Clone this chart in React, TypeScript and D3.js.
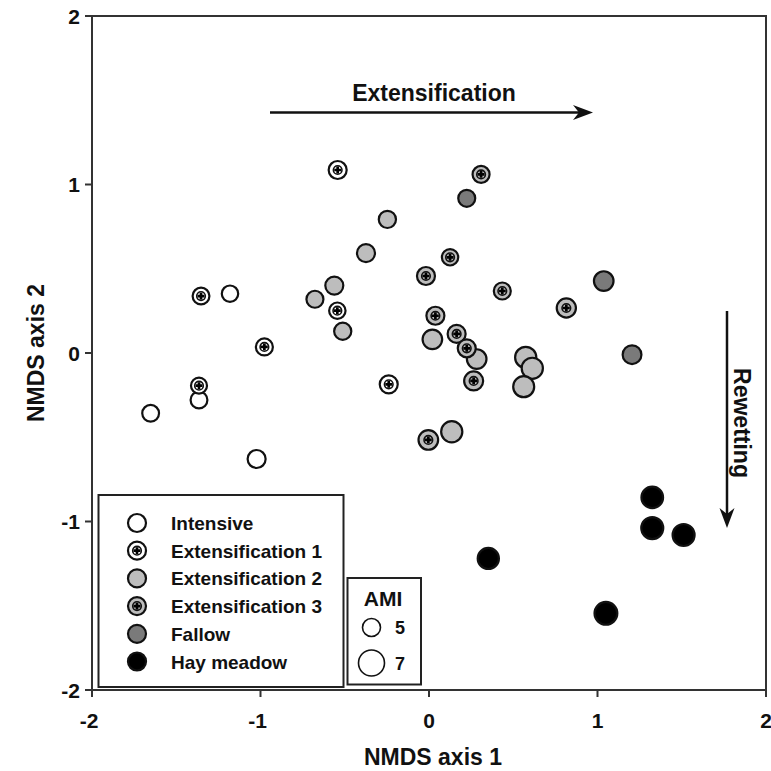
import React from "react";
import * as d3 from "d3";

// [NMDS1, NMDS2, AMI]
const intensive: [number, number, number][] = [
  [-1.181, 0.352, 4.6],
  [-1.365, -0.279, 4.7],
  [-1.652, -0.358, 4.7],
  [-1.023, -0.629, 5.0],
];
const extensification1: [number, number, number][] = [
  [-1.353, 0.338, 4.7],
  [-0.544, 0.251, 4.6],
  [-0.977, 0.036, 4.75],
  [-1.365, -0.194, 4.5],
  [-0.239, -0.186, 5.0],
  [-0.542, 1.086, 5.0],
];
const extensification2: [number, number, number][] = [
  [-0.677, 0.319, 4.75],
  [-0.562, 0.4, 5.0],
  [-0.512, 0.129, 4.8],
  [-0.374, 0.593, 5.0],
  [-0.247, 0.793, 4.8],
  [0.02, 0.081, 5.4],
  [0.135, -0.467, 5.8],
  [0.283, -0.036, 5.4],
  [0.574, -0.026, 5.8],
  [0.613, -0.091, 5.8],
  [0.562, -0.2, 5.75],
];
const extensification3: [number, number, number][] = [
  [-0.018, 0.457, 5.0],
  [0.125, 0.568, 4.6],
  [0.038, 0.221, 5.0],
  [0.164, 0.113, 5.0],
  [0.224, 0.028, 5.0],
  [-0.004, -0.516, 5.4],
  [0.435, 0.368, 4.75],
  [0.815, 0.267, 5.3],
  [0.265, -0.166, 5.25],
  [0.309, 1.06, 4.75],
];
const fallow: [number, number, number][] = [
  [0.224, 0.918, 4.75],
  [1.037, 0.427, 5.4],
  [1.205, -0.01, 5.2],
];
const hayMeadow: [number, number, number][] = [
  [1.325, -0.857, 5.9],
  [1.325, -1.039, 6.0],
  [1.511, -1.08, 6.0],
  [0.352, -1.219, 5.8],
  [1.05, -1.545, 6.2],
];

const groupNames = ["Intensive", "Extensification 1", "Extensification 2", "Extensification 3", "Fallow", "Hay meadow"];
const groupFills = ["#ffffff", "#ffffff", "#bdbdbd", "#bdbdbd", "#7a7a7a", "#000000"];
const groupPlus = [false, true, false, true, false, false];
const groupData = [intensive, extensification1, extensification2, extensification3, fallow, hayMeadow];

const tickValues = [-2, -1, 0, 1, 2];
const amiLegend = [5, 7];

const FONT = "'Liberation Sans', Arial, Helvetica, sans-serif";

function Marker({ cx, cy, r, fill, plus }: { cx: number; cy: number; r: number; fill: string; plus: boolean }) {
  return (
    <g transform={`translate(${cx},${cy})`}>
      <circle r={r} fill={fill} stroke="#111" strokeWidth={2.2} />
      {plus && (
        <>
          <circle r={4.3} fill={fill} stroke="#111" strokeWidth={1.6} />
          <path d="M-3.4,0H3.4M0,-3.4V3.4" stroke="#000" strokeWidth={2.7} />
        </>
      )}
    </g>
  );
}

export default function App() {
  const x = d3.scaleLinear().domain([-2, 2]).range([92, 766]);
  const y = d3.scaleLinear().domain([-2, 2]).range([690, 16]);
  const r = d3.scaleLinear().domain([5, 7]).range([9, 13]);

  const left = x(-2), right = x(2), top = y(2), bottom = y(-2);

  return (
    <svg width={771} height={771} style={{ position: "absolute", left: 0, top: 0, background: "#fff" }} fontFamily={FONT}>
      <rect x={0} y={0} width={771} height={771} fill="#fff" />
      {/* frame */}
      <rect x={left} y={top} width={right - left} height={bottom - top} fill="none" stroke="#333" strokeWidth={2} />
      {/* x ticks */}
      {tickValues.map((t) => (
        <g key={"x" + t}>
          <line x1={x(t)} x2={x(t)} y1={bottom} y2={bottom + 7} stroke="#333" strokeWidth={2} />
          <text x={x(t) - (t < 0 ? 3 : 0)} y={728} textAnchor="middle" fontSize={21} fontWeight="bold" fill="#111">
            {t}
          </text>
        </g>
      ))}
      {/* y ticks */}
      {tickValues.map((t) => (
        <g key={"y" + t}>
          <line x1={left - 7} x2={left} y1={y(t)} y2={y(t)} stroke="#333" strokeWidth={2} />
          <text x={80} y={y(t) + 7.5} textAnchor="end" fontSize={21} fontWeight="bold" fill="#111">
            {t}
          </text>
        </g>
      ))}
      <text x={433} y={765} textAnchor="middle" fontSize={23} fontWeight="bold" fill="#111">
        NMDS axis 1
      </text>
      <text transform={`translate(44,${y(0)}) rotate(-90)`} textAnchor="middle" fontSize={23} fontWeight="bold" fill="#111">
        NMDS axis 2
      </text>

      {/* Extensification arrow */}
      <text x={434} y={101} textAnchor="middle" fontSize={23} fontWeight="bold" fill="#111">
        Extensification
      </text>
      <line x1={270} x2={585} y1={112.5} y2={112.5} stroke="#111" strokeWidth={2.5} />
      <path d="M593,112.5 L573,105 L579,112.5 L573,120 Z" fill="#111" />

      {/* Rewetting arrow */}
      <line x1={727} x2={727} y1={311} y2={520} stroke="#111" strokeWidth={2.5} />
      <path d="M727,528 L719.5,508 L727,514 L734.5,508 Z" fill="#111" />
      <text transform={`translate(734,423) rotate(90)`} textAnchor="middle" fontSize={23} fontWeight="bold" fill="#111">
        Rewetting
      </text>

      {/* points */}
      {groupData.map((data, gi) =>
        data.map((d, i) => (
          <Marker key={gi + "-" + i} cx={x(d[0])} cy={y(d[1])} r={r(d[2])} fill={groupFills[gi]} plus={groupPlus[gi]} />
        ))
      )}

      {/* group legend */}
      <rect x={98.5} y={495} width={245} height={192} fill="#fff" stroke="#222" strokeWidth={2} />
      {groupNames.map((name, i) => {
        const cy = 523 + i * 27.7;
        return (
          <g key={name}>
            <Marker cx={137} cy={cy} r={9} fill={groupFills[i]} plus={groupPlus[i]} />
            <text x={171} y={cy + 7} fontSize={19} fontWeight="bold" fill="#111">
              {name}
            </text>
          </g>
        );
      })}

      {/* AMI legend */}
      <rect x={347.5} y={578} width={73.5} height={106.5} fill="#fff" stroke="#222" strokeWidth={2} />
      <text x={383} y={606} textAnchor="middle" fontSize={21} fontWeight="bold" fill="#111">
        AMI
      </text>
      {amiLegend.map((a, i) => {
        const cy = i === 0 ? 627.5 : 663;
        return (
          <g key={"ami" + a}>
            <circle cx={371.5} cy={cy} r={r(a)} fill="#fff" stroke="#111" strokeWidth={1.6} />
            <text x={395} y={cy + 6.5} fontSize={18} fontWeight="bold" fill="#111">
              {a}
            </text>
          </g>
        );
      })}
    </svg>
  );
}
